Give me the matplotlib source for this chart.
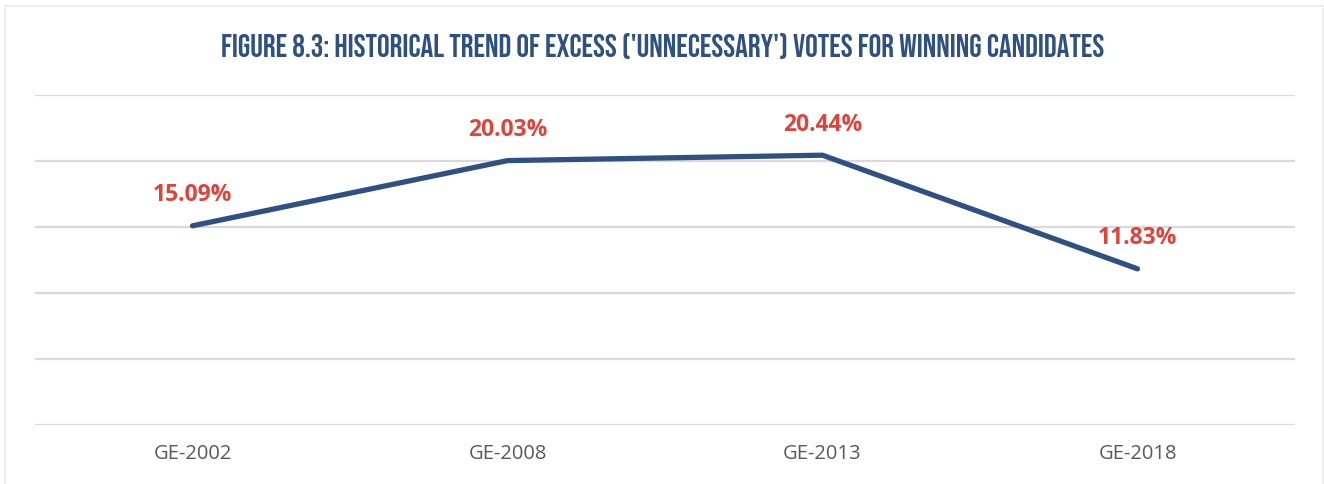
import matplotlib
matplotlib.use("Agg")
import matplotlib.pyplot as plt
from matplotlib.patches import Rectangle

# Election years and excess-vote share (%)
elections = ["GE-2002", "GE-2008", "GE-2013", "GE-2018"]
excess_pct = [15.09, 20.03, 20.44, 11.83]
value_labels = ["15.09%", "20.03%", "20.44%", "11.83%"]
y_ticks = [0, 5, 10, 15, 20, 25]

title = "FIGURE 8.3: HISTORICAL TREND OF EXCESS ('UNNECESSARY') VOTES FOR WINNING CANDIDATES"

W, H = 1324, 484
fig = plt.figure(figsize=(W / 100, H / 100), dpi=100)
fig.patch.set_facecolor("white")

# faint frame around the chart area
fig.patches.append(Rectangle((5 / W, -0.01), (1318 / W), (H - 6) / H + 0.01,
                             transform=fig.transFigure, fill=False,
                             edgecolor="#ececec", linewidth=1.2))

ax = fig.add_axes([35 / W, 59 / H, 1260 / W, 330 / H])
x = list(range(len(elections)))

for yv in y_ticks:
    ax.axhline(yv, color="#d9d9d9", linewidth=1.6, zorder=1)

ax.plot(x, excess_pct, color="#2f5181", linewidth=3.8,
        solid_capstyle="round", solid_joinstyle="round", zorder=3)

for xi, yi, lab in zip(x, excess_pct, value_labels):
    ax.annotate(lab, (xi, yi), xytext=(0, 22), textcoords="offset points",
                ha="center", va="center", color="#e0433a",
                fontsize=16.5, fontweight="bold", family="Open Sans")

ax.set_xlim(-0.5, len(elections) - 0.5)
ax.set_ylim(0, 25)
ax.set_xticks(x)
ax.set_xticklabels(elections, family="Open Sans", fontsize=14.5, color="#595959")
ax.tick_params(axis="x", length=0, pad=14)
ax.set_yticks([])
for s in ax.spines.values():
    s.set_visible(False)

fig.text(663 / W, 1 - 46 / H, title, ha="center", va="center",
         family="Bebas Neue", fontsize=22.9, color="#2f5181")

fig.savefig("out.png", dpi=100, facecolor="white")
